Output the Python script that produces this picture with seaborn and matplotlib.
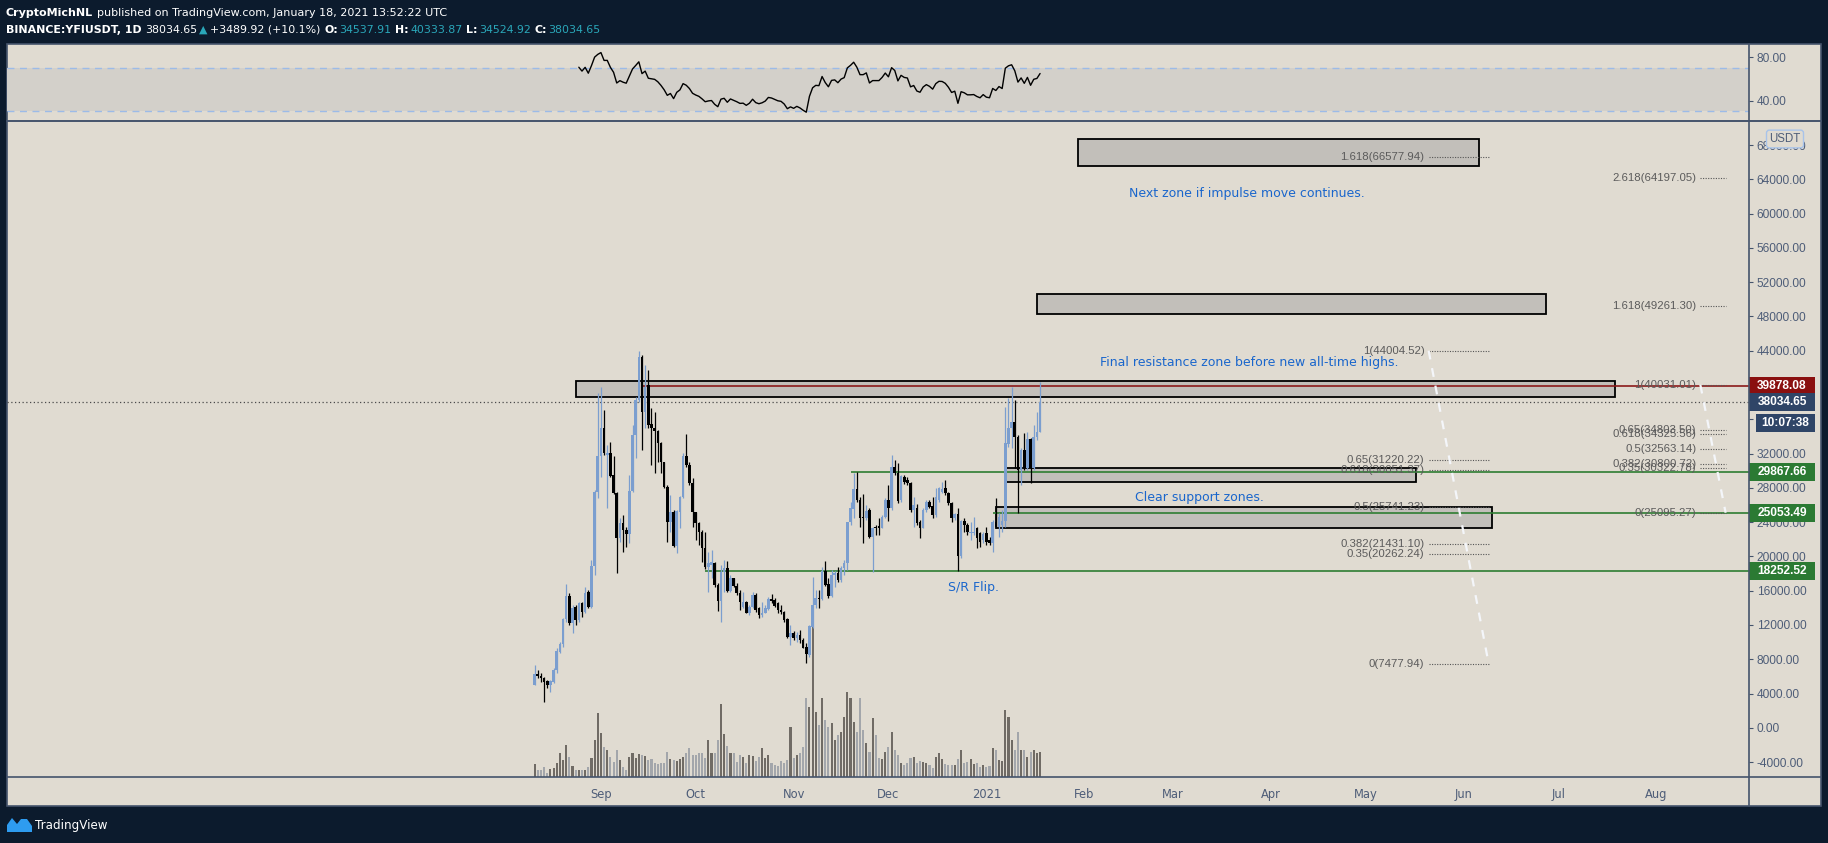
import numpy as np
import pandas as pd
import matplotlib
matplotlib.use("Agg")
import matplotlib.pyplot as plt
import matplotlib.transforms as mtransforms
from matplotlib.patches import Rectangle, Polygon
from matplotlib.lines import Line2D
import seaborn as sns

# ---- daily YFI/USDT candles (2020-08-11 .. 2021-01-18) ----
first_day = "2020-08-11"
opens = [5000, 6240, 6080, 5850, 5460, 5000, 5380, 6750, 8880, 9740,
         12700, 15380, 12270, 14100, 12580, 14530, 13550, 15890, 14140, 18880,
         27560, 31720, 34950, 31800, 32030, 29500, 27360, 22190, 23860, 23080,
         22580, 27640, 34170, 38250, 43310, 36890, 40000, 35450, 34950, 34640,
         33200, 30980, 28140, 24060, 25220, 21250, 25220, 26970, 31720, 30670,
         28610, 25150, 23940, 22890, 21020, 18800, 19000, 19190, 16660, 14800,
         18220, 18610, 15960, 17440, 16590, 15690, 14140, 14720, 13440, 14140,
         15500, 13940, 13160, 13440, 13860, 15030, 14910, 14530, 13750, 13550,
         12700, 10640, 11030, 10440, 10830, 10250, 9470, 8500, 11800, 14330,
         15110, 15030, 18300, 16740, 15420, 17830, 18030, 17250, 18610, 19190,
         23980, 25530, 27870, 26580, 24640, 24445, 25420, 22310, 23470, 23550,
         23360, 24640, 26580, 25610, 30470, 29700, 26580, 29310, 28920, 28570,
         25420, 25610, 24060, 23360, 25420, 26390, 25920, 24830, 26580, 27560,
         27950, 27360, 26200, 24445, 24910, 20090, 24130, 23670, 22700, 22700,
         23280, 22700, 21920, 22700, 21920, 21530, 24060, 23470, 23670, 24100,
         33080, 34950, 35730, 33980, 30090, 32420, 30280, 33700, 30280, 33980,
         34537.91]
highs = [7330, 6750, 6360, 5950, 5580, 5580, 6940, 9270, 10050, 12850,
         16820, 15690, 14330, 14330, 14720, 14720, 16470, 16080, 19580, 27750,
         39030, 39810, 37090, 33000, 33390, 31720, 27560, 24445, 24830, 23470,
         29500, 35340, 38640, 44004.52, 43500, 42340, 41760, 37280, 36890, 34750,
         33310, 31060, 28335, 27170, 25420, 25420, 27000, 32030, 34250, 31060,
         29110, 25220, 24060, 23080, 22890, 20560, 20750, 19390, 16860, 19000,
         19580, 19470, 17830, 17500, 16860, 16080, 15890, 14800, 14330, 15810,
         15690, 14140, 14720, 14330, 15300, 15620, 15110, 14720, 14330, 13630,
         12775, 12000, 11300, 11220, 11410, 10440, 9860, 12000, 17640, 16080,
         16080, 18800, 19470, 17440, 18420, 18300, 18800, 18920, 19580, 24060,
         26390, 29700, 29890, 26970, 27250, 26000, 25610, 23470, 23670, 24445,
         24830, 26780, 28335, 31840, 31250, 30860, 29500, 29500, 29310, 28720,
         26970, 26100, 24250, 25610, 26580, 26580, 26970, 27950, 28140, 28720,
         28920, 27560, 26390, 25030, 25610, 24250, 24445, 23860, 24060, 24640,
         23470, 22890, 22890, 23470, 22310, 24250, 26780, 25030, 25420, 37480,
         38450, 39810, 38250, 34170, 32600, 34360, 34560, 33780, 35340, 36890,
         40333.87]
lows = [4950, 5770, 5380, 3050, 4600, 4220, 5190, 6360, 8690, 9470,
        12390, 12000, 11030, 12000, 12390, 12970, 13360, 13940, 13940, 17830,
        26780, 29310, 31840, 25600, 29310, 27300, 18100, 21720, 20560, 21140,
        21530, 27560, 31450, 38060, 32420, 34950, 34950, 30670, 29700, 31060,
        29700, 27950, 21720, 22890, 21140, 20360, 23280, 26780, 30470, 28335,
        23470, 21920, 21330, 19390, 18530, 15890, 17440, 16470, 13630, 12310,
        15890, 15810, 15800, 16470, 15500, 13750, 13940, 13360, 13160, 13940,
        13550, 12775, 12970, 13360, 13750, 14530, 14140, 13360, 13240, 12390,
        10440, 9660, 10250, 9980, 9940, 9270, 7520, 8300, 11610, 13940,
        13940, 14950, 16590, 15110, 15300, 16470, 17050, 16980, 17830, 18420,
        23670, 24445, 26390, 23470, 21530, 24300, 22110, 18220, 22500, 22500,
        23280, 24445, 24130, 25420, 29500, 26200, 26390, 28410, 28335, 25220,
        23470, 23670, 22110, 23280, 25220, 25610, 24520, 24640, 26390, 27360,
        27170, 26000, 24060, 24250, 18300, 19780, 22890, 22500, 21920, 22500,
        21020, 21140, 21530, 21330, 21330, 20560, 23360, 22310, 22890, 23470,
        32810, 32610, 30280, 25100, 28335, 30090, 30090, 28530, 30090, 33590,
        34524.92]
closes = [6240, 6080, 5770, 5380, 5000, 5460, 6750, 8960, 9740, 12700,
          15380, 12270, 14020, 12580, 14530, 13550, 15690, 14140, 18880, 27560,
          31720, 34950, 32030, 32100, 29420, 27360, 22190, 23860, 23080, 22580,
          27640, 34170, 38250, 43310, 36890, 39810, 35340, 34950, 34640, 33200,
          30980, 28140, 24060, 25220, 21250, 25300, 26970, 31720, 30670, 28530,
          25150, 23860, 22890, 21020, 18800, 19190, 19390, 16660, 14800, 18220,
          18610, 15960, 17440, 16590, 15690, 14640, 14720, 13440, 14140, 15500,
          13750, 13160, 13440, 13940, 15030, 14800, 14250, 13750, 13550, 12580,
          10640, 11030, 10440, 10830, 10250, 9350, 8570, 11880, 14330, 15110,
          15030, 18300, 16660, 15420, 17830, 18030, 17250, 18610, 19190, 23980,
          25610, 27870, 26580, 24445, 24445, 25340, 22310, 23360, 23360, 23360,
          24640, 26580, 25610, 30470, 29700, 26470, 29420, 28720, 28530, 25420,
          26000, 23860, 23360, 25420, 26390, 25810, 24830, 26970, 27950, 27900,
          27360, 26200, 24520, 24910, 20090, 24130, 23670, 22810, 22810, 22890,
          22190, 21720, 22580, 21720, 21530, 24060, 23470, 24640, 24100, 33200,
          34950, 35730, 33980, 30090, 32420, 30280, 33700, 30280, 33980, 34544.73,
          38034.65]
# relative volume
volumes = [38, 20, 20, 30, 12, 22, 25, 42, 70, 50,
           95, 58, 32, 20, 20, 20, 20, 28, 55, 110,
           190, 130, 88, 80, 60, 45, 80, 50, 30, 20,
           60, 72, 55, 68, 65, 62, 50, 52, 40, 38,
           40, 42, 75, 52, 50, 48, 52, 60, 70, 85,
           65, 65, 70, 70, 55, 110, 70, 70, 110, 218,
           128, 92, 70, 70, 45, 65, 60, 42, 65, 62,
           48, 60, 85, 55, 65, 42, 35, 32, 48, 40,
           50, 150, 55, 65, 70, 90, 235, 208, 490, 195,
           155, 235, 170, 150, 160, 110, 125, 135, 180, 255,
           235, 165, 135, 235, 140, 100, 75, 175, 125, 55,
           52, 75, 90, 135, 80, 65, 42, 35, 40, 55,
           60, 40, 48, 45, 40, 35, 27, 60, 70, 52,
           38, 35, 35, 35, 52, 80, 42, 45, 52, 38,
           40, 28, 35, 30, 32, 85, 80, 50, 48, 200,
           180, 110, 80, 135, 80, 80, 60, 75, 80, 72,
           75]

# ---- horizontal levels ----
last_price = 38034.65
red_level = 39878.08
red_start = "2020-09-14"
green_levels = [29867.66, 25053.49, 18252.52]
green_starts = ["2020-11-19", "2021-01-03", "2020-10-04"]
countdown = "10:07:38"

# ---- grey zones ----
zone_starts = ["2020-08-24", "2021-01-07", "2021-01-04", "2021-01-30", "2021-01-17"]
zone_ends = ["2021-07-19", "2021-05-17", "2021-06-10", "2021-06-06", "2021-06-27"]
zone_lows = [38635, 28716, 23349, 65519, 48250]
zone_highs = [40502, 30280, 25729, 68670, 50618]

# ---- fib tools ----
fibA_levels = ["1", "0.65", "0.618", "0.5", "0.382", "0.35", "0", "1.618"]
fibA_prices = [44004.52, 31220.22, 30051.37, 25741.23, 21431.10, 20262.24, 7477.94, 66577.94]
fibA_dates = ["2021-05-21", "2021-06-09"]
fibB_levels = ["1", "0.65", "0.618", "0.5", "0.382", "0.35", "0", "1.618", "2.618"]
fibB_prices = [40031.01, 34803.50, 34325.56, 32563.14, 30800.72, 30322.78, 25095.27, 49261.30, 64197.05]
fibB_dates = ["2021-08-15", "2021-08-23"]

# ---- notes ----
notes = ["Final resistance zone before new all-time highs.",
         "Next zone if impulse move continues.",
         "Clear support zones.",
         "S/R Flip."]
note_dates = ["2021-02-06", "2021-02-15", "2021-02-17", "2020-12-20"]
note_prices = [42600, 62300, 26840, 16400]

# ---- colours ----
NAVY = "#0c1b2d"
BEIGE = "#e0dbd1"
SLATE = "#45546c"
TICK_TXT = "#4e5d78"
UP = "#7b9ecf"
DOWN = "#000000"
VOL_UP = "#706b65"
VOL_DN = "#a3a6ab"
ZONE = "#c2bfba"
BAND = "#d3d0ca"
GREEN = "#2e7d32"
RED = "#8b1a1a"
NOTE_BLUE = "#1a66cc"
TEAL = "#2aa7b9"
FIB_TXT = "#5b5b5b"

sns.set_theme(style="white")
plt.rcParams["font.family"] = ["DejaVu Sans"]

origin = pd.Timestamp("2020-09-01")


def to_day(d):
    return (pd.Timestamp(d) - origin).days


dates = pd.date_range(first_day, periods=len(opens), freq="D")
days = np.array([(d - origin).days for d in dates])
o = np.array(opens, float)
h = np.array(highs, float)
l = np.array(lows, float)
c = np.array(closes, float)
is_up = c >= o


def wilder_rsi(values, n=14):
    s = pd.Series(values, dtype=float)
    delta = s.diff()
    gain = delta.clip(lower=0)
    loss = -delta.clip(upper=0)
    ag = gain.iloc[1:n + 1].mean()
    al = loss.iloc[1:n + 1].mean()
    out = np.full(len(s), np.nan)
    out[n] = 100 - 100 / (1 + ag / al)
    for i in range(n + 1, len(s)):
        ag = (ag * (n - 1) + gain.iloc[i]) / n
        al = (al * (n - 1) + loss.iloc[i]) / n
        out[i] = 100 - 100 / (1 + ag / al)
    return out


rsi_df = pd.DataFrame({"day": days, "rsi": wilder_rsi(c)}).dropna()

W, H = 1828, 843
fig = plt.figure(figsize=(W / 100, H / 100), dpi=100, facecolor=NAVY)


def fbox(x0, y0, x1, y1):
    return [x0 / W, 1 - y1 / H, (x1 - x0) / W, (y1 - y0) / H]


def fline(xs, ys, **kw):
    fig.add_artist(Line2D([x / W for x in xs], [1 - y / H for y in ys],
                          transform=fig.transFigure, **kw))


# panel background
fig.patches.append(Rectangle((7 / W, 1 - 806 / H), (1821 - 7) / W, (806 - 44) / H,
                             transform=fig.transFigure, fc=BEIGE, ec=SLATE, lw=1.2, zorder=-1))

XL = (-188.0, 363.4)
YL = (-5706, 70805)

ax_vol = fig.add_axes(fbox(7, 121, 1749, 776.7))
ax = fig.add_axes(fbox(7, 121, 1749, 776.7))
ax_rsi = fig.add_axes(fbox(7, 44, 1749, 121))
for a in (ax_vol, ax, ax_rsi):
    a.set_facecolor("none")
    a.set_xlim(*XL)
    for s in a.spines.values():
        s.set_visible(False)

# volume
ax_vol.bar(days, volumes, width=0.66, color=[VOL_UP if u else VOL_DN for u in is_up], lw=0)
ax_vol.set_ylim(0, 1967)
ax_vol.set_axis_off()

# candles
cols = [UP if u else DOWN for u in is_up]
ax.vlines(days, l, h, colors=cols, lw=0.9, zorder=4)
ax.bar(days, np.maximum(np.abs(c - o), 70), bottom=np.minimum(o, c), width=0.82,
       color=cols, lw=0, zorder=5)

# zones
for s0, s1, lo, hi in zip(zone_starts, zone_ends, zone_lows, zone_highs):
    ax.add_patch(Rectangle((to_day(s0), lo), to_day(s1) - to_day(s0), hi - lo,
                           fc=ZONE, ec="black", lw=1.3, zorder=3))

# horizontal levels
ax.axhline(last_price, color="#4a4a4a", lw=0.9, ls=(0, (1, 2)), zorder=2)
ax.hlines(red_level, to_day(red_start), XL[1], color=RED, lw=1.2, zorder=3.5)
for lv, st in zip(green_levels, green_starts):
    ax.hlines(lv, to_day(st), XL[1], color=GREEN, lw=1.2, zorder=3.5)


# fib tools
def draw_fib(levels, prices, dts):
    x0, x1 = to_day(dts[0]), to_day(dts[1])
    for lv, p in zip(levels, prices):
        ax.hlines(p, x0, x1, color="#555555", lw=0.8, ls=(0, (1, 1.3)), zorder=6)
        ax.annotate(f"{lv}({p:.2f})", (x0, p), xytext=(-3, 0), textcoords="offset points",
                    ha="right", va="center", fontsize=8.2, color=FIB_TXT,
                    family="Liberation Sans", zorder=7)
    p1 = prices[levels.index("1")]
    p0 = prices[levels.index("0")]
    ax.plot([x0, x1], [p1, p0], color="#f4f6fa", lw=1.6, ls=(0, (4, 4)), zorder=6)


draw_fib(fibA_levels, fibA_prices, fibA_dates)
draw_fib(fibB_levels, fibB_prices, fibB_dates)

for t, d, p in zip(notes, note_dates, note_prices):
    ax.text(to_day(d), p, t, color=NOTE_BLUE, fontsize=9, ha="left", va="center", zorder=8)

# axes ticks
ax.set_ylim(*YL)
yt = np.arange(-4000, 68001, 4000)
ax.yaxis.tick_right()
ax.set_yticks(yt)
ax.set_yticklabels([f"{v:.2f}" for v in yt], family="Liberation Sans")
ax.tick_params(axis="y", length=3, width=0.8, color=SLATE, labelcolor=TICK_TXT,
               labelsize=8.6, pad=2.5)
months = pd.date_range("2020-09-01", "2021-08-01", freq="MS")
ax.set_xticks([to_day(m) for m in months])
ax.set_xticklabels(["2021" if m.month == 1 else m.strftime("%b") for m in months])
ax.tick_params(axis="x", length=3, width=0.8, color=SLATE, labelcolor=TICK_TXT,
               labelsize=8.3, pad=5)
ax.grid(False)

# RSI pane
ax_rsi.axhspan(30, 70, color=BAND, lw=0, zorder=0)
for lv in (30, 70):
    ax_rsi.axhline(lv, color="#9cbbe8", lw=1, ls=(0, (5, 4)), zorder=1)
sns.lineplot(data=rsi_df, x="day", y="rsi", ax=ax_rsi, color="black", lw=1, zorder=3)
ax_rsi.set_ylim(21.2, 92.3)
ax_rsi.set_xlabel("")
ax_rsi.set_ylabel("")
ax_rsi.set_xticks([])
ax_rsi.yaxis.tick_right()
ax_rsi.set_yticks([40, 80])
ax_rsi.set_yticklabels(["40.00", "80.00"], family="Liberation Sans")
ax_rsi.tick_params(axis="y", length=3, width=0.8, color=SLATE, labelcolor=TICK_TXT,
                   labelsize=8.6, pad=2.5)
ax_rsi.grid(False)

# pane separators / price scale border
fline([7, 1821], [121, 121], color=SLATE, lw=1.4)
fline([7, 1821], [776.7, 776.7], color=SLATE, lw=1.2)
fline([1749, 1749], [44, 806], color=SLATE, lw=1.2)

# price badges on the scale
blend = mtransforms.blended_transform_factory(ax.transAxes, ax.transData)
ppk = 1000 / 8.57  # price units per pixel
axw = 1742.0


def badge(price, text, color, x0=0, x1=66, dy=0):
    yc = price - dy * ppk
    ax.add_patch(Rectangle((1 + x0 / axw, yc - 9 * ppk), (x1 - x0) / axw, 18 * ppk,
                           transform=blend, fc=color, ec="none", clip_on=False, zorder=9))
    ax.text(1 + (x0 + x1) / 2 / axw, yc, text, transform=blend, ha="center", va="center",
            color="white", fontsize=8.6, fontweight="bold", family="Liberation Sans",
            clip_on=False, zorder=10)


badge(red_level, f"{red_level:.2f}", "#8a0f0f")
badge(last_price, f"{last_price:.2f}", "#2f4567")
badge(last_price, countdown, "#2f4567", x0=7, dy=21)
for lv in green_levels:
    badge(lv, f"{lv:.2f}", "#2b7a33")

fig.text(1785 / W, 1 - 139 / H, "USDT", ha="center", va="center", fontsize=8.3,
         color=TICK_TXT, family="Liberation Sans",
         bbox=dict(boxstyle="round,pad=0.25", fc=BEIGE, ec="#a8c3ea", lw=1))

# header
renderer = fig.canvas.get_renderer()


def run(x, y, parts, size=8.0):
    for txt, color, weight, gap in parts:
        x += gap
        t = fig.text(x / W, 1 - y / H, txt, color=color, fontsize=size, fontweight=weight,
                     ha="left", va="center", family=["DejaVu Sans"])
        x += t.get_window_extent(renderer).width


chg = c[-1] - c[-2]
run(6, 13.5, [("CryptoMichNL", "white", "bold", 0),
              ("published on TradingView.com, January 18, 2021 13:52:22 UTC", "white", "normal", 4)])
run(6, 30, [("BINANCE:YFIUSDT, 1D", "white", "bold", 0),
            (f"{c[-1]:.2f}", "white", "normal", 4),
            ("\u25b2", TEAL, "normal", 1),
            (f"+{chg:.2f} (+{chg / c[-2] * 100:.1f}%)", "white", "normal", 3),
            ("O:", "white", "bold", 4), (f"{o[-1]:.2f}", TEAL, "normal", 1),
            ("H:", "white", "bold", 4), (f"{h[-1]:.2f}", TEAL, "normal", 1),
            ("L:", "white", "bold", 4), (f"{l[-1]:.2f}", TEAL, "normal", 1),
            ("C:", "white", "bold", 4), (f"{c[-1]:.2f}", TEAL, "normal", 1)], size=7.9)

# footer logo
logo = [(7, 832), (7, 825), (12, 818), (17, 824), (21, 819), (27, 819), (32, 826), (32, 832)]
fig.patches.append(Polygon([(x / W, 1 - y / H) for x, y in logo], closed=True,
                           transform=fig.transFigure, fc="#2e9cf0", ec="none"))
fig.text(35 / W, 1 - 825 / H, "TradingView", color="white", fontsize=8.6,
         ha="left", va="center")

fig.savefig("out.png", dpi=100, facecolor=NAVY)
